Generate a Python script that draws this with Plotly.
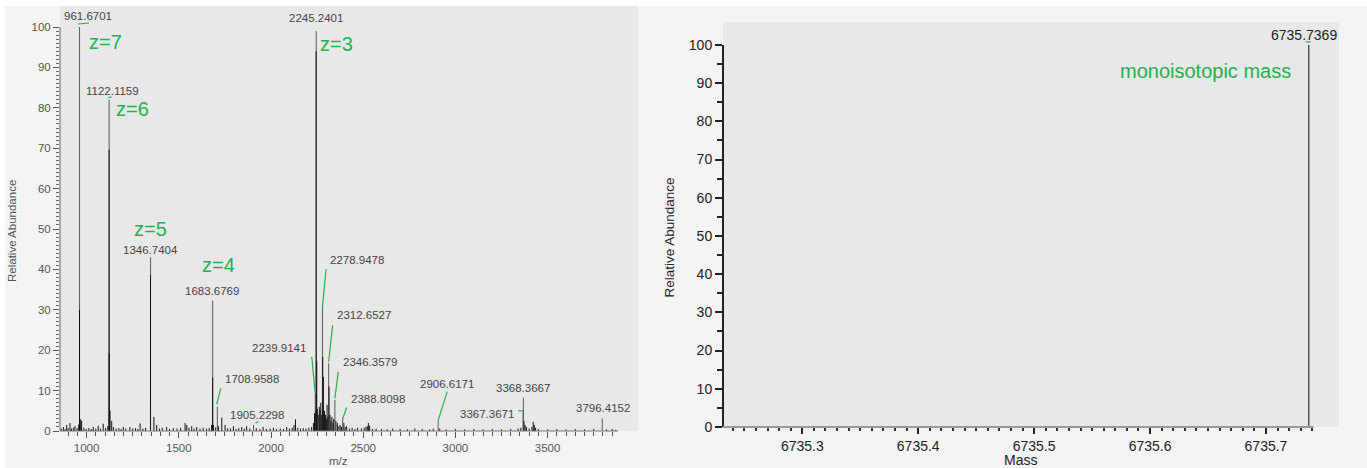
import numpy as np
import plotly.graph_objects as go

W, H = 1367, 468
FONT = "Liberation Sans, Arial, sans-serif"
GREEN = "#22b14c"

# ---------------- data: left panel (m/z spectrum) ----------------
mz = [862, 874, 883, 892, 900, 910, 918, 928, 937, 948, 957,
      961.3856, 961.6701, 962.1, 968, 973, 985, 998, 1012, 1025, 1036, 1050, 1063, 1075,
      1090, 1103, 1115, 1121.95, 1122.1159, 1122.45, 1123.5, 1127, 1136, 1145, 1160,
      1175, 1187, 1199, 1212, 1235, 1250, 1265, 1278, 1290, 1305, 1320, 1346.3,
      1346.54, 1346.7404, 1365, 1380, 1395, 1410, 1434, 1450, 1470, 1490, 1510, 1534,
      1543, 1555, 1570, 1583, 1597, 1615, 1632, 1650, 1665, 1678, 1683.43, 1683.6769,
      1688, 1700, 1708.9588, 1715, 1733, 1751, 1765, 1780, 1796, 1810, 1825, 1841,
      1855, 1868, 1885, 1905.2298, 1920, 1940, 1957, 1975, 1995, 2013, 2030, 2050,
      2068, 2085, 2100, 2115, 2125, 2133, 2145, 2160, 2175, 2190, 2205, 2220, 2230,
      2236, 2239.9141, 2243.5, 2244.9, 2245.2401, 2248, 2251, 2256, 2262, 2266, 2270,
      2275, 2278.9478, 2280.5, 2284, 2290, 2296, 2300, 2304, 2308, 2312.6527, 2314.5,
      2320, 2325, 2330, 2336, 2340, 2346.3579, 2352, 2360, 2368, 2375, 2382,
      2388.8098, 2395, 2402, 2410, 2425, 2440, 2455, 2470, 2490, 2505, 2515, 2522,
      2528, 2535, 2550, 2570, 2600, 2630, 2660, 2700, 2740, 2780, 2820, 2860, 2880,
      2906.6171, 2915, 2950, 3000, 3050, 3100, 3150, 3200, 3250, 3300, 3340, 3355,
      3367.3671, 3368.3667, 3372, 3378, 3385, 3400, 3415, 3422, 3428, 3435, 3450,
      3500, 3550, 3600, 3650, 3700, 3750, 3796.4152, 3820, 3850, 3870]
abundance = [0.6, 1.0, 0.5, 1.5, 0.7, 2.0, 0.6, 0.8, 1.2, 0.7, 1.6,
             30.0, 100.0, 3.0, 2.9, 2.5, 0.8, 0.5, 0.7, 0.5, 1.0, 0.6, 1.3, 0.6,
             1.8, 0.7, 1.2, 69.6, 82.0, 19.3, 4.5, 5.0, 2.5, 1.0, 0.6,
             0.7, 0.5, 1.0, 0.6, 1.0, 0.6, 0.7, 0.5, 1.9, 0.6, 0.8, 7.3,
             38.6, 43.0, 3.5, 1.5, 0.6, 0.8, 1.0, 0.5, 0.7, 0.6, 0.8, 2.0,
             1.5, 0.8, 1.2, 0.6, 1.0, 0.6, 0.8, 0.6, 0.7, 1.5, 13.2, 32.3,
             1.5, 0.9, 6.0, 1.2, 3.3, 1.5, 0.7, 0.6, 1.2, 0.5, 0.7, 1.0,
             0.6, 1.2, 0.6, 1.5, 0.7, 0.5, 1.0, 0.5, 0.6, 0.8, 0.5, 0.6,
             0.5, 1.0, 0.6, 0.8, 1.5, 2.9, 0.8, 0.6, 0.7, 0.6, 0.8, 1.0, 2.0,
             4.4, 9.3, 5.0, 94.0, 99.0, 17.2, 5.5, 4.0, 6.0, 5.2, 7.0,
             4.0, 30.6, 18.4, 13.4, 5.0, 4.0, 3.0, 6.5, 3.5, 16.8, 11.0,
             4.0, 2.5, 3.5, 2.0, 3.0, 7.7, 2.5, 2.0, 1.2, 1.5, 1.0,
             3.1, 2.0, 1.0, 1.2, 0.6, 0.8, 0.5, 0.8, 0.6, 0.8, 1.0, 1.2,
             2.0, 1.3, 0.5, 0.6, 0.5, 0.4, 0.6, 0.5, 0.4, 0.6, 0.5, 0.4, 0.6,
             2.7, 0.6, 0.4, 0.5, 0.4, 0.5, 0.4, 0.5, 0.4, 0.5, 0.6, 0.8,
             5.0, 8.3, 2.5, 1.5, 1.0, 0.6, 1.0, 2.3, 1.5, 0.8, 0.5,
             0.4, 0.5, 0.4, 0.5, 0.4, 0.5, 3.1, 0.4, 0.5, 0.3]

labeled_peaks = [961.6701, 1122.1159, 1346.7404, 1683.6769, 1708.9588, 1905.2298,
                 2239.9141, 2245.2401, 2278.9478, 2312.6527, 2346.3579, 2388.8098,
                 2906.6171, 3367.3671, 3368.3667, 3796.4152]
charge_labels = ["z=7", "z=6", "z=5", "z=4", "z=3"]
charge_peaks = [961.6701, 1122.1159, 1346.7404, 1683.6769, 2245.2401]

left_x_ticks = [1000, 1500, 2000, 2500, 3000, 3500]
left_y_ticks = [0, 10, 20, 30, 40, 50, 60, 70, 80, 90, 100]

# ---------------- data: right panel (deconvoluted mass) ----------------
mass = [6735.7369]
mass_abundance = [100.0]
right_x_ticks = [6735.3, 6735.4, 6735.5, 6735.6, 6735.7]
right_y_ticks = [0, 10, 20, 30, 40, 50, 60, 70, 80, 90, 100]

# ---------------- helpers ----------------
def sticks(xv, yv):
    xs, ys = [], []
    for m, a in zip(xv, yv):
        xs += [m, m, None]
        ys += [0, a, None]
    return xs, ys

height_of = dict(zip(mz, abundance))

fig = go.Figure()

# labelled peaks (gray), then all others (black) on top
lab_x = [m for m in mz if m in labeled_peaks]
lab_y = [height_of[m] for m in lab_x]
oth_x = [m for m in mz if m not in labeled_peaks]
oth_y = [height_of[m] for m in oth_x]
xs, ys = sticks(lab_x, lab_y)
fig.add_trace(go.Scatter(x=xs, y=ys, mode="lines", line=dict(color="#5a5a5a", width=1),
                         hoverinfo="skip", xaxis="x", yaxis="y"))
xs, ys = sticks(oth_x, oth_y)
fig.add_trace(go.Scatter(x=xs, y=ys, mode="lines", line=dict(color="#111111", width=1),
                         hoverinfo="skip", xaxis="x", yaxis="y"))

xs, ys = sticks(mass, mass_abundance)
fig.add_trace(go.Scatter(x=xs, y=ys, mode="lines", line=dict(color="#555555", width=1.5),
                         hoverinfo="skip", xaxis="x2", yaxis="y2"))

# ---------------- layout / axes ----------------
L_X0, L_X1, L_Y0, L_Y1 = 60, 638, 431, 6
R_X0, R_X1, R_Y0, R_Y1 = 723, 1339, 427, 22

left_range = [855.7, 3990.2]
right_range = [6735.2316, 6735.763]

tickfont_l = dict(family=FONT, size=11.5, color="#555555")
tickfont_r = dict(family=FONT, size=14, color="#222222")

fig.update_layout(
    template="none",
    width=W, height=H, margin=dict(l=0, r=0, t=0, b=0, autoexpand=False),
    paper_bgcolor="#f4f4f4", plot_bgcolor="#e8e8e8", showlegend=False,
    xaxis=dict(domain=[L_X0 / W, L_X1 / W], range=left_range, showgrid=False, zeroline=False,
               automargin=False,
               showline=False, tickmode="array", tickvals=left_x_ticks,
               ticktext=[str(t) for t in left_x_ticks], ticks="outside", ticklen=6,
               tickcolor="#555", tickfont=tickfont_l,
               minor=dict(tickmode="array", tickvals=list(np.arange(900, 3900, 50)),
                          ticks="outside", ticklen=4, tickcolor="#555", showgrid=False)),
    yaxis=dict(domain=[1 - L_Y0 / H, 1 - L_Y1 / H], range=[0, 105.2], showgrid=False,
               automargin=False,
               zeroline=False, showline=False, tickmode="array", tickvals=left_y_ticks,
               ticks="outside", ticklen=6, tickcolor="#555", tickfont=tickfont_l,
               minor=dict(tickmode="array", tickvals=list(range(0, 101)), ticks="outside",
                          ticklen=3, tickcolor="#666", showgrid=False)),
    xaxis2=dict(domain=[R_X0 / W, R_X1 / W], range=right_range, showgrid=False, zeroline=False,
                automargin=False,
                showline=False, tickmode="array",
                tickvals=[6735.25, 6735.3, 6735.35, 6735.4, 6735.45, 6735.5, 6735.55,
                          6735.6, 6735.65, 6735.7],
                ticktext=["", "6735.3", "", "6735.4", "", "6735.5", "", "6735.6", "", "6735.7"],
                ticks="outside", ticklen=6, tickwidth=1.5, tickcolor="#222", tickfont=tickfont_r,
                minor=dict(tickmode="array",
                           tickvals=list(np.round(np.arange(6735.24, 6735.745, 0.01), 2)),
                           ticks="outside", ticklen=3, tickcolor="#333", showgrid=False),
                anchor="y2"),
    yaxis2=dict(domain=[1 - R_Y0 / H, 1 - R_Y1 / H], range=[0, 106.0], showgrid=False,
                automargin=False,
                zeroline=False, showline=False, tickmode="array", tickvals=right_y_ticks,
                ticks="outside", ticklen=7, tickwidth=1.5, tickcolor="#222", tickfont=tickfont_r,
                minor=dict(tickmode="array", tickvals=list(range(5, 100, 10)), ticks="outside",
                           ticklen=5, tickcolor="#222", showgrid=False),
                anchor="x2"),
)

shapes = []
# white strips at the very top and left of the picture
shapes.append(dict(type="rect", xref="paper", yref="paper", x0=0, x1=1, y0=1 - 6 / H, y1=1,
                   fillcolor="white", line=dict(width=0), layer="above"))
shapes.append(dict(type="rect", xref="paper", yref="paper", x0=0, x1=5 / W, y0=0, y1=1,
                   fillcolor="white", line=dict(width=0), layer="above"))
# axis lines
shapes.append(dict(type="line", xref="x domain", yref="y", x0=0, x1=0, y0=0, y1=100,
                   line=dict(color="#666", width=1)))
shapes.append(dict(type="line", xref="x", yref="y domain", x0=left_range[0], x1=3882, y0=0, y1=0,
                   line=dict(color="#777", width=1)))
shapes.append(dict(type="line", xref="x2 domain", yref="y2", x0=0, x1=0, y0=0, y1=100,
                   line=dict(color="#222", width=2)))
shapes.append(dict(type="line", xref="x2", yref="y2 domain", x0=6735.2256, x1=6735.741, y0=0, y1=0,
                   line=dict(color="#999", width=2)))

# green leader lines: (peak, dx0, dy0, dx1, dy1) in pixels relative to the peak top
leaders = [
    (961.6701, -1.5, 3, 9.5, 4), (1122.1159, -1, 2, 2.5, 3), (1708.9588, -0.6, 2.5, 3.4, 18.5),
    (1905.2298, 2, 2, 5, 3.5), (2239.9141, 0, 0, -3.5, 36.7), (2278.9478, 0, 0, 3.6, 38.4),
    (2312.6527, 0, 1.4, 4, 38), (2346.3579, 0, 1.6, 3.4, 28), (2388.8098, 0, 0, 4, 11),
    (2906.6171, 0, 0, 9, 28.4), (3367.3671, -5, 0, -0.5, 0),
]
for pk, dx0, dy0, dx1, dy1 in leaders:
    shapes.append(dict(type="line", xref="x", yref="y", xsizemode="pixel", ysizemode="pixel",
                       xanchor=pk, yanchor=height_of[pk], x0=dx0, x1=dx1, y0=dy0, y1=dy1,
                       line=dict(color=GREEN, width=1.2)))
shapes.append(dict(type="line", xref="x2", yref="y2", xsizemode="pixel", ysizemode="pixel",
                   xanchor=mass[0], yanchor=mass_abundance[0], x0=-3, x1=2, y0=3, y1=3,
                   line=dict(color=GREEN, width=1.2)))
fig.update_layout(shapes=shapes)

ann = []
# peak labels: pixel offsets of the label centre from the peak top
label_offsets = {
    961.6701: (8.5, 11), 1122.1159: (3, 8.7), 1346.7404: (-0.5, 7), 1683.6769: (-0.7, 9.5),
    2245.2401: (0, 13), 2278.9478: (34.6, 47.4), 2312.6527: (35.3, 48.1),
    2239.9141: (-36.2, 45.7), 2346.3579: (35.1, 37.9), 1708.9588: (34.7, 27.8),
    2388.8098: (35.3, 19.5), 2906.6171: (8.8, 36.1), 3368.3667: (-0.3, 9.5),
    3367.3671: (-36.2, -3.2), 3796.4152: (0.7, 10.5), 1905.2298: (3.5, 10),
}
for pk in labeled_peaks:
    dx, dy = label_offsets[pk]
    ann.append(dict(x=pk, y=height_of[pk], xref="x", yref="y", text=f"{pk:.4f}",
                    showarrow=False, xshift=dx, yshift=dy, xanchor="center", yanchor="middle",
                    font=dict(family=FONT, size=11.5, color="#444")))
charge_offsets = [(25.5, -15), (23, -9.3), (0, 28), (5.5, 35.5), (20, -13)]
for lab, pk, (dx, dy) in zip(charge_labels, charge_peaks, charge_offsets):
    ann.append(dict(x=pk, y=height_of[pk], xref="x", yref="y", text=lab, showarrow=False,
                    xshift=dx, yshift=dy, xanchor="center", yanchor="middle",
                    font=dict(family=FONT, size=20, color=GREEN)))
# right panel labels
ann.append(dict(x=mass[0], y=mass_abundance[0], xref="x2", yref="y2", text=f"{mass[0]:.4f}",
                showarrow=False, xshift=-5, yshift=10, xanchor="center", yanchor="middle",
                font=dict(family=FONT, size=14, color="#222")))
ann.append(dict(x=mass[0], y=mass_abundance[0], xref="x2", yref="y2", text="monoisotopic mass",
                showarrow=False, xshift=-103, yshift=-26, xanchor="center", yanchor="middle",
                font=dict(family=FONT, size=20, color=GREEN)))
# axis titles
ann.append(dict(x=12 / W, y=1 - 231 / H, xref="paper", yref="paper", text="Relative Abundance",
                textangle=-90, showarrow=False, xanchor="center", yanchor="middle",
                font=dict(family=FONT, size=11.5, color="#555")))
ann.append(dict(x=338 / W, y=1 - 461 / H, xref="paper", yref="paper", text="m/z",
                showarrow=False, xanchor="center", yanchor="middle",
                font=dict(family=FONT, size=11.5, color="#555")))
ann.append(dict(x=669 / W, y=1 - 237.5 / H, xref="paper", yref="paper", text="Relative Abundance",
                textangle=-90, showarrow=False, xanchor="center", yanchor="middle",
                font=dict(family=FONT, size=13.5, color="#222")))
ann.append(dict(x=1020 / W, y=1 - 460 / H, xref="paper", yref="paper", text="Mass",
                showarrow=False, xanchor="center", yanchor="middle",
                font=dict(family=FONT, size=14, color="#222")))
fig.update_layout(annotations=ann)

fig.write_html("out.html")
